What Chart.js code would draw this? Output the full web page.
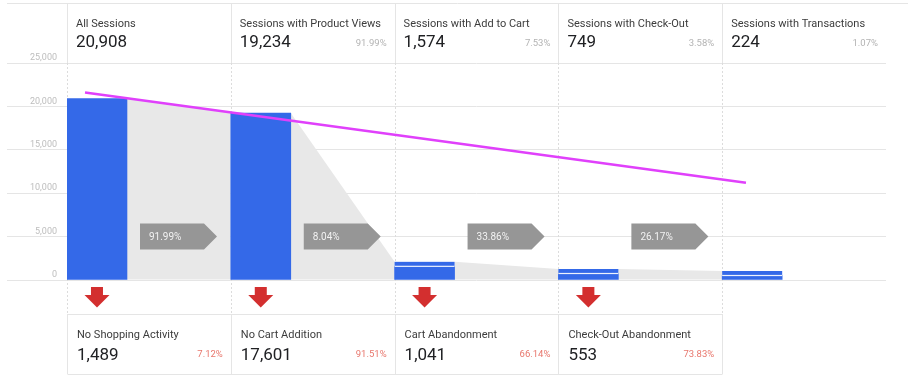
<!DOCTYPE html>
<html>
<head>
<meta charset="utf-8">
<script src="https://cdn.jsdelivr.net/npm/chart.js@4"></script>
<style>
body { margin: 0; background: #fff; }
</style>
</head>
<body>
<canvas id="funnel" width="918" height="387"></canvas>
<script>
// funnel steps
var steps = ['All Sessions', 'Sessions with Product Views', 'Sessions with Add to Cart', 'Sessions with Check-Out', 'Sessions with Transactions'];
var sessions = [20908, 19234, 1574, 749, 224];
var sessionPct = [null, 91.99, 7.53, 3.58, 1.07];
// conversion between steps (grey arrows)
var stepRates = [91.99, 8.04, 33.86, 26.17];
// drop-offs (bottom row)
var dropLabels = ['No Shopping Activity', 'No Cart Addition', 'Cart Abandonment', 'Check-Out Abandonment'];
var dropValues = [1489, 17601, 1041, 553];
var dropPct = [7.12, 91.51, 66.14, 73.83];
// magenta trend line, start and end value
var trendValues = [21600, 11200];
var yTicks = [0, 5000, 10000, 15000, 20000, 25000];

var BAR_COLOR = '#3469e8';
var LINE_COLOR = '#e5e5e5';
var BAR_OFFSET = 0.183;   // bar centre inside its column
var CAP = 4.5;            // little cap drawn on top of tiny bars

function fmt(n) { return n.toLocaleString('en-US'); }

var funnelDecor = {
    id: 'funnelDecor',
    beforeDatasetsDraw: function(chart) {
        var ctx = chart.ctx, xs = chart.scales.x, area = chart.chartArea;
        var colX = function(i) { return Math.round(xs.getPixelForValue(i)) + 0.5; };
        var bars = chart.getDatasetMeta(1).data;
        ctx.save();
        ctx.lineWidth = 1;
        ctx.strokeStyle = LINE_COLOR;
        // header frame
        ctx.beginPath();
        ctx.moveTo(7, 3.5); ctx.lineTo(908, 3.5);
        for (var i = 0; i <= 4; i++) { ctx.moveTo(colX(i), 3); ctx.lineTo(colX(i), area.top); }
        // bottom cells
        ctx.moveTo(colX(0), area.bottom + 34.5); ctx.lineTo(colX(4), area.bottom + 34.5);
        ctx.moveTo(colX(0), area.bottom + 94.5); ctx.lineTo(colX(4), area.bottom + 94.5);
        for (i = 0; i <= 4; i++) { ctx.moveTo(colX(i), area.bottom + 34); ctx.lineTo(colX(i), area.bottom + 94); }
        ctx.stroke();
        // dashed column lines
        ctx.setLineDash([2, 2]);
        ctx.strokeStyle = '#dcdcdc';
        ctx.beginPath();
        for (i = 0; i <= 4; i++) { ctx.moveTo(colX(i), area.top); ctx.lineTo(colX(i), area.bottom + 34); }
        ctx.stroke();
        ctx.setLineDash([]);

        // grey flow between bars
        var top = function(b) { return (b.base - b.y < 20) ? b.y - CAP : b.y; };
        ctx.fillStyle = '#e8e8e8';
        for (i = 0; i < bars.length - 1; i++) {
            var a = bars[i], b = bars[i + 1];
            ctx.beginPath();
            ctx.moveTo(a.x + a.width / 2, top(a));
            ctx.lineTo(b.x - b.width / 2, top(b));
            ctx.lineTo(b.x - b.width / 2, b.base);
            ctx.lineTo(a.x + a.width / 2, a.base);
            ctx.closePath();
            ctx.fill();
        }

        // grey conversion arrows
        var cy = area.bottom - 0.2 * (area.bottom - area.top);
        for (i = 0; i < stepRates.length; i++) {
            var bx = bars[i].x + bars[i].width / 2 + 13;
            ctx.fillStyle = '#969696';
            ctx.beginPath();
            ctx.moveTo(bx, cy - 13);
            ctx.lineTo(bx + 64, cy - 13);
            ctx.lineTo(bx + 77, cy);
            ctx.lineTo(bx + 64, cy + 13);
            ctx.lineTo(bx, cy + 13);
            ctx.closePath();
            ctx.fill();
            ctx.fillStyle = '#f2f2f2';
            ctx.font = '10px Roboto';
            ctx.textAlign = 'left';
            ctx.textBaseline = 'middle';
            ctx.fillText(stepRates[i].toFixed(2) + '%', bx + 9, cy + 0.5);
        }
        ctx.restore();
    },
    afterDatasetsDraw: function(chart) {
        var ctx = chart.ctx;
        var bars = chart.getDatasetMeta(1).data;
        ctx.save();
        bars.forEach(function(b) {
            if (b.base - b.y >= 20) return;
            var x0 = b.x - b.width / 2;
            ctx.fillStyle = BAR_COLOR;
            ctx.fillRect(x0, b.y - CAP, b.width, CAP);
            ctx.fillStyle = 'rgba(255,255,255,0.9)';
            ctx.fillRect(x0, b.y - 0.6, b.width, 1.2);
        });
        ctx.restore();
    },
    afterDraw: function(chart) {
        var ctx = chart.ctx, xs = chart.scales.x, area = chart.chartArea;
        var colX = function(i) { return xs.getPixelForValue(i); };
        var bars = chart.getDatasetMeta(1).data;
        ctx.save();
        ctx.textBaseline = 'alphabetic';
        // header cells
        for (var i = 0; i < steps.length; i++) {
            ctx.textAlign = 'left';
            ctx.fillStyle = '#3c3c3c';
            ctx.font = '11px Roboto';
            ctx.fillText(steps[i], colX(i) + 9, 27);
            ctx.fillStyle = '#202124';
            ctx.font = '17px Roboto';
            ctx.fillText(fmt(sessions[i]), colX(i) + 9, 47);
            if (sessionPct[i] != null) {
                ctx.textAlign = 'right';
                ctx.fillStyle = '#b3b3b3';
                ctx.font = '9.5px Roboto';
                ctx.fillText(sessionPct[i].toFixed(2) + '%', colX(i + 1) - 8, 46);
            }
        }
        // drop-off cells + red arrows
        for (i = 0; i < dropLabels.length; i++) {
            var b0 = area.bottom;
            ctx.textAlign = 'left';
            ctx.fillStyle = '#3c3c3c';
            ctx.font = '11px Roboto';
            ctx.fillText(dropLabels[i], colX(i) + 10, b0 + 58);
            ctx.fillStyle = '#202124';
            ctx.font = '17px Roboto';
            ctx.fillText(fmt(dropValues[i]), colX(i) + 10, b0 + 80);
            ctx.textAlign = 'right';
            ctx.fillStyle = '#e8776d';
            ctx.font = '9.5px Roboto';
            ctx.fillText(dropPct[i].toFixed(2) + '%', colX(i + 1) - 8, b0 + 77);

            var cx = bars[i].x;
            ctx.fillStyle = '#d32f2f';
            ctx.fillRect(cx - 6, b0 + 7, 12, 8.5);
            ctx.beginPath();
            ctx.moveTo(cx - 12.5, b0 + 15);
            ctx.lineTo(cx + 12.5, b0 + 15);
            ctx.lineTo(cx, b0 + 27.5);
            ctx.closePath();
            ctx.fill();
        }
        ctx.restore();
    }
};

Chart.defaults.font.family = 'Roboto';

var ctx1 = document.getElementById('funnel');
var chart1 = new Chart(ctx1, {
    type: 'bar',
    data: {
        datasets: [{
            type: 'line',
            label: 'Trend',
            order: 0,
            data: [{x: 0.11, y: trendValues[0]}, {x: 4.145, y: trendValues[1]}],
            borderColor: '#e040fb',
            borderWidth: 2.5,
            pointRadius: 0,
            fill: false
        }, {
            label: 'Sessions',
            order: 1,
            data: sessions.map(function(v, i) { return {x: i + BAR_OFFSET, y: v}; }),
            backgroundColor: BAR_COLOR,
            barThickness: 60,
            minBarLength: 4.5,
            borderWidth: 0
        }]
    },
    options: {
        responsive: false,
        devicePixelRatio: 1,
        animation: false,
        layout: { padding: { left: 7, right: 32, top: 63, bottom: 107 } },
        plugins: {
            legend: { display: false },
            tooltip: { enabled: false }
        },
        scales: {
            x: {
                type: 'linear',
                min: 0,
                max: 5,
                offset: false,
                display: false
            },
            y: {
                min: 0,
                max: 25000,
                afterFit: function(scale) { scale.width = 60; },
                afterBuildTicks: function(scale) {
                    scale.ticks = yTicks.map(function(v) { return {value: v}; });
                },
                border: { display: false },
                grid: {
                    color: LINE_COLOR,
                    tickColor: LINE_COLOR,
                    tickLength: 60
                },
                ticks: {
                    padding: -50,
                    labelOffset: -5,
                    color: '#bdbdbd',
                    font: { size: 9 },
                    callback: function(value) { return fmt(value); }
                }
            }
        }
    },
    plugins: [funnelDecor]
});
</script>
</body>
</html>
